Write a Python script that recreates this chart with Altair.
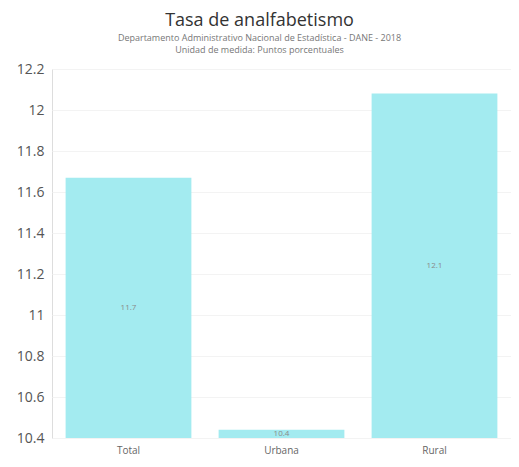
import altair as alt
import pandas as pd

categories = ["Total", "Urbana", "Rural"]
values = [11.67, 10.44, 12.08]
y_ticks = [10.4, 10.6, 10.8, 11.0, 11.2, 11.4, 11.6, 11.8, 12.0, 12.2]

df = pd.DataFrame({"cat": categories, "v": values})
FONT = "Open Sans"

base = alt.Chart(df)

bars = base.mark_bar(color="#a3ebf0", clip=True).encode(
    x=alt.X("cat:N", sort=categories, title=None,
            scale=alt.Scale(paddingInner=0.178, paddingOuter=0.089),
            axis=alt.Axis(labelAngle=0, ticks=False, domain=False, labelPadding=7,
                          labelFontSize=10, labelColor="#666666", labelFont=FONT)),
    y=alt.Y("v:Q", title=None,
            scale=alt.Scale(domain=[10.4, 12.2], nice=False, zero=False),
            axis=alt.Axis(values=y_ticks, labelExpr="format(datum.value, '.3~g')",
                          ticks=False, domain=False, labelPadding=8,
                          minExtent=44, maxExtent=44,
                          labelFontSize=14, labelColor="#555555", labelFont=FONT,
                          gridColor="#f3f3f3")),
)

labels = base.transform_calculate(
    mid="(10.4 + datum.v) / 2"
).mark_text(fontSize=8, color="#8a8a8a", font=FONT).encode(
    x=alt.X("cat:N", sort=categories),
    y=alt.Y("mid:Q"),
    text=alt.Text("v:Q", format=".1f"),
)

chart = (bars + labels).properties(
    width=459, height=369,
    padding={"left": 0, "top": 4, "right": 0, "bottom": 0},
    title=alt.TitleParams(
        text="Tasa de analfabetismo",
        subtitle=["Departamento Administrativo Nacional de Estadística - DANE - 2018",
                  "Unidad de medida: Puntos porcentuales"],
        anchor="middle", frame="bounds",
        font=FONT, fontSize=18, fontWeight="normal", color="#333333",
        subtitleFont=FONT, subtitleFontSize=9, subtitleColor="#777777",
        subtitlePadding=4, subtitleLineHeight=12, offset=7,
    ),
).configure_view(stroke=None).configure(background="white")

chart.save("out.html", embed_options={"renderer": "svg", "actions": False})
